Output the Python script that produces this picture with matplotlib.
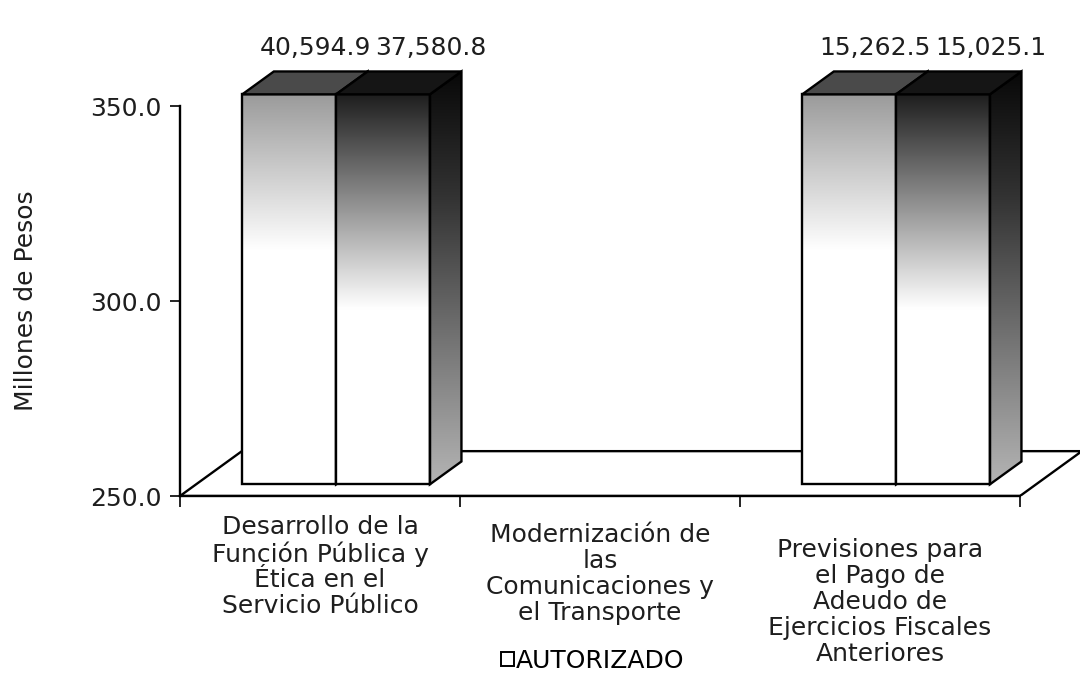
import numpy as np
import matplotlib
matplotlib.use("Agg")
import matplotlib.pyplot as plt
from matplotlib.patches import Polygon, Patch

plt.rcParams['font.family'] = ['DejaVu Sans']

# datos
categorias = ["Desarrollo de la\nFunción Pública y\nÉtica en el\nServicio Público",
              "Modernización de\nlas\nComunicaciones y\nel Transporte",
              "Previsiones para\nel Pago de\nAdeudo de\nEjercicios Fiscales\nAnteriores"]
autorizado = [40594.9, 0.0, 15262.5]
ejercido = [37580.8, 0.0, 15025.1]
yticks = [250.0, 300.0, 350.0]

ymin, ymax = 250.0, 350.0
DX, DY = 0.221, 11.5        # profundidad del piso (pseudo 3D)
f0, f1 = 0.26, 0.77         # posicion de las barras dentro de la profundidad
bw = 0.335                  # ancho de cada barra
txt = '#1e1e1e'
fs = 18

fig = plt.figure(figsize=(10.8, 6.9), dpi=100)
ax = fig.add_axes([180/1080, 1-496/690, 3.22*280/1080, (370-250)*3.9/690])


def gradiente(stops, colores, n=256):
    t = np.linspace(0, 1, n)
    c = np.array(colores, dtype=float) / 255.0
    arr = np.stack([np.interp(t, stops, c[:, k]) for k in range(3)], axis=-1)
    return arr[:, None, :]


def cara(pts, grad=None, color=None, z=2):
    poly = Polygon(pts, closed=True, facecolor=color if color else 'none',
                   edgecolor='black', lw=1.7, zorder=z + 0.5)
    ax.add_patch(poly)
    if grad is not None:
        xs = [p[0] for p in pts]
        ys = [p[1] for p in pts]
        im = ax.imshow(grad, extent=[min(xs), max(xs), min(ys), max(ys)],
                       origin='upper', aspect='auto', zorder=z, interpolation='bilinear')
        im.set_clip_path(poly)


# piso
ax.add_patch(Polygon([(0, ymin), (3, ymin), (3 + DX, ymin + DY), (DX, ymin + DY)],
                     closed=True, facecolor='white', edgecolor='black', lw=1.7, zorder=1))

g_aut = gradiente([0, 0.40, 1], [(155, 155, 155), (255, 255, 255), (255, 255, 255)])
g_eje = gradiente([0, 0.55, 1], [(30, 30, 30), (255, 255, 255), (255, 255, 255)])
g_lado = gradiente([0, 0.3, 1], [(8, 8, 8), (50, 50, 50), (180, 180, 180)])

ox0, oy0 = f0 * DX, f0 * DY
ox1, oy1 = f1 * DX, f1 * DY
for i in range(len(categorias)):
    serie = [(autorizado[i], g_aut, '#4a4a4a'), (ejercido[i], g_eje, '#151515')]
    x_izq = i + 0.5 - bw
    for j, (v, g, ctop) in enumerate(serie):
        if v <= ymin:
            continue
        top = min(v, ymax)
        xa = x_izq + j * bw + ox0
        xb = xa + bw
        ya, yb = ymin + oy0, top + oy0
        z = 3 + j
        # cara frontal
        cara([(xa, ya), (xb, ya), (xb, yb), (xa, yb)], grad=g, z=z)
        # cara lateral
        cara([(xb, ya), (xb + ox1 - ox0, ya + oy1 - oy0), (xb + ox1 - ox0, yb + oy1 - oy0), (xb, yb)],
             grad=g_lado, z=z)
        # cara superior
        cara([(xa, yb), (xb, yb), (xb + ox1 - ox0, yb + oy1 - oy0), (xa + ox1 - ox0, yb + oy1 - oy0)],
             color=ctop, z=z + 0.2)
        dx_lbl = 0.15 if j == 0 else 0.23
        ax.text(x_izq + j * bw + bw / 2 + dx_lbl, 365.0, f"{v:,.1f}", ha='center', va='center',
                fontsize=fs, color=txt)

ax.set_xlim(0, 3.22)
ax.set_ylim(ymin, 370)
for s in ['top', 'right']:
    ax.spines[s].set_visible(False)
ax.spines['left'].set_bounds(ymin, ymax)
ax.spines['bottom'].set_bounds(0, 3)
ax.spines['left'].set_linewidth(1.7)
ax.spines['bottom'].set_linewidth(1.7)
ax.set_yticks(yticks)
ax.set_yticklabels([f"{t:.1f}" for t in yticks], fontsize=fs, color=txt)
ax.tick_params(axis='y', length=7, width=1.2, pad=6)
ax.set_xticks([0, 1, 2, 3])
ax.set_xticklabels([])
ax.tick_params(axis='x', length=8, width=1.2)
ax.set_ylabel("Millones de Pesos", fontsize=fs, color=txt)
ax.yaxis.set_label_coords(-0.158, (300 - ymin) / (370 - ymin))

# etiquetas de categoria
bajada = [0, 8, 23]
for i, cat in enumerate(categorias):
    ax.annotate(cat, xy=(i + 0.5, ymin), xytext=(0, -19 - bajada[i]), textcoords='offset pixels',
                ha='center', va='top', fontsize=fs, linespacing=1.1, color=txt,
                annotation_clip=False)

ax.legend(handles=[Patch(facecolor='white', edgecolor='black', lw=1.4, label='AUTORIZADO')],
          loc='center', bbox_to_anchor=(593/1080, 1-661/690), bbox_transform=fig.transFigure,
          frameon=False, fontsize=fs, handlelength=0.5, handleheight=0.5, handletextpad=0.1)

fig.savefig("out.png", dpi=100)
